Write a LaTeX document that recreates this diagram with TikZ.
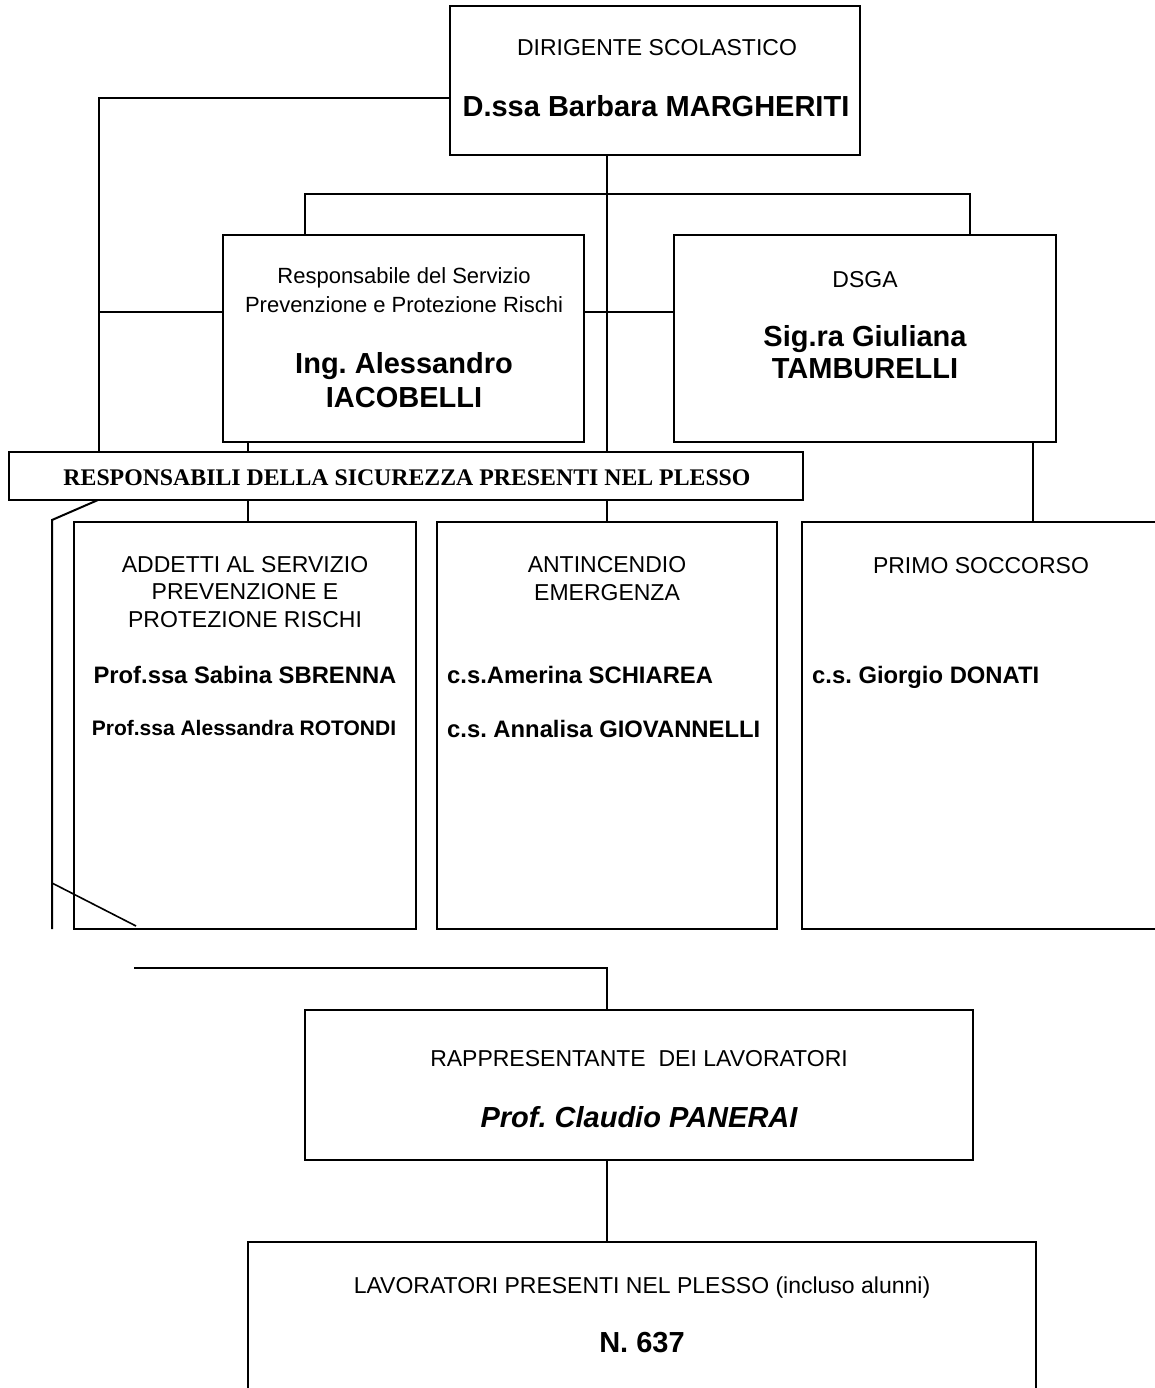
\documentclass[tikz,border=0pt]{standalone}
\usepackage{fontspec}
\setmainfont{Liberation Sans}
\newfontfamily\bannerfont{Liberation Serif}
\newcommand\fsNorm{\fontsize{23}{27}\selectfont}
\newcommand\fsSmall{\fontsize{22}{26}\selectfont}
\newcommand\fsBig{\bfseries\fontsize{29}{33}\selectfont}
\newcommand\fsName{\bfseries\fontsize{23.8}{28}\selectfont}
\newcommand\fsNameS{\bfseries\fontsize{21}{25}\selectfont}
\frenchspacing
\begin{document}
\begin{tikzpicture}[x=1pt,y=-1pt,
  box/.style={draw,line width=2pt,anchor=north west,inner sep=0pt,outer sep=0pt},
  conn/.style={line width=2pt},
  thin/.style={line width=1.6pt},
  txt/.style={inner sep=0pt,anchor=base,font=\frenchspacing}]
\clip (0,0) rectangle (1155,1388);
\fill[white] (0,0) rectangle (1155,1388);

% boxes
\node[box,minimum width=410pt,minimum height=149pt] (dir) at (450,6) {};
\node[box,minimum width=361pt,minimum height=207pt] (rspp) at (223,235) {};
\node[box,minimum width=382pt,minimum height=207pt] (dsga) at (674,235) {};
\node[box,minimum width=794pt,minimum height=48pt] (ban) at (9,452) {};
\node[box,minimum width=342pt,minimum height=407pt] (add) at (74,522) {};
\node[box,minimum width=340pt,minimum height=407pt] (ant) at (437,522) {};
\node[box,minimum width=370pt,minimum height=407pt] (pri) at (802,522) {};
\node[box,minimum width=668pt,minimum height=150pt] (rap) at (305,1010) {};
\node[box,minimum width=788pt,minimum height=160pt] (lav) at (248,1242) {};

% texts
\node[txt] (t1) at (657,56) {\fsNorm DIRIGENTE SCOLASTICO};
\node[txt] (t2) at (656,117) {\fsBig D.ssa Barbara MARGHERITI};

\node[txt] (t3) at (404,283) {\fsSmall Responsabile del Servizio};
\node[txt] (t4) at (404,312) {\fsSmall Prevenzione e Protezione Rischi};
\node[txt] (t5) at (404,373) {\fsBig Ing.\ Alessandro};
\node[txt] (t6) at (404,407) {\fsBig IACOBELLI};

\node[txt] (t7) at (865,287) {\fsNorm DSGA};
\node[txt] (t8) at (865,346) {\fsBig Sig.ra Giuliana};
\node[txt] (t9) at (865,378) {\fsBig TAMBURELLI};

\node[txt] (tb) at (407,485) {\bannerfont\bfseries\fontsize{23.8}{28}\selectfont RESPONSABILI DELLA SICUREZZA PRESENTI NEL PLESSO};

\node[txt] (a1) at (245,572) {\fsNorm ADDETTI AL SERVIZIO};
\node[txt] (a2) at (245,599) {\fsNorm PREVENZIONE E};
\node[txt] (a3) at (245,627) {\fsNorm PROTEZIONE RISCHI};
\node[txt] (a4) at (245,683) {\fsName Prof.ssa Sabina SBRENNA};
\node[txt] (a5) at (244,735) {\fsNameS Prof.ssa Alessandra ROTONDI};

\node[txt] (b1) at (607,572) {\fsNorm ANTINCENDIO};
\node[txt] (b2) at (607,600) {\fsNorm EMERGENZA};
\node[txt,anchor=base west] (b3) at (447,683) {\fsName c.s.Amerina SCHIAREA};
\node[txt,anchor=base west] (b4) at (447,737) {\fsName c.s.\ Annalisa GIOVANNELLI};

\node[txt] (c1) at (981,573) {\fsNorm PRIMO SOCCORSO};
\node[txt,anchor=base west] (c2) at (812,683) {\fsName c.s.\ Giorgio DONATI};

\node[txt] (r1) at (639,1066) {\fsNorm RAPPRESENTANTE\ \ DEI LAVORATORI};
\node[txt] (r2) at (639,1127) {\fsBig\itshape Prof.\ Claudio PANERAI};

\node[txt] (l1) at (642,1293) {\fsNorm LAVORATORI PRESENTI NEL PLESSO (incluso alunni)};
\node[txt] (l2) at (642,1352) {\fsBig N.\ 637};

% junction coordinates
\coordinate (j1) at (99,98);
\coordinate (j2) at (99,312);
\coordinate (j3) at (305,194);
\coordinate (j4) at (970,194);
\coordinate (j5) at (98,500);
\coordinate (j6) at (52,520);
\coordinate (j7) at (52,929);
\coordinate (j8) at (52,883);
\coordinate (j9) at (136,926);
\coordinate (j10) at (134,968);
\coordinate (j11) at (607,968);

% connectors
\draw[conn] (dir.west |- j1) -- (j1) -- (j1 |- ban.north);
\draw[conn] (j2) -- (rspp.west |- j2);
\draw[conn] (dir.south -| j11) -- (ban.north -| j11);
\draw[conn] (rspp.north -| j3) -- (j3) -- (j4) -- (dsga.north -| j4);
\draw[conn] (rspp.east |- j2) -- (dsga.west |- j2);
\draw[conn] (rspp.south -| 248,0) -- (ban.north -| 248,0);
\draw[conn] (ban.south -| 248,0) -- (add.north -| 248,0);
\draw[conn] (ban.south -| j11) -- (ant.north -| j11);
\draw[conn] (dsga.south -| 1033,0) -- (pri.north -| 1033,0);
\draw[conn] (j5) -- (j6) -- (j7);
\draw[thin] (j8) -- (j9);
\draw[conn] (j10) -- (j11) -- (rap.north -| j11);
\draw[conn] (rap.south -| j11) -- (lav.north -| j11);
\end{tikzpicture}
\end{document}
